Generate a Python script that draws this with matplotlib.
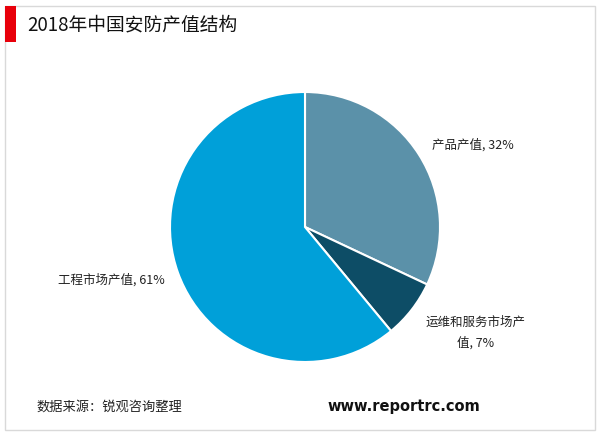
import matplotlib
matplotlib.use("Agg")
import matplotlib.pyplot as plt
from matplotlib.patches import Rectangle

plt.rcParams['font.family'] = ['Noto Sans CJK SC', 'DejaVu Sans']

title = "2018年中国安防产值结构"
categories = ["产品产值", "运维和服务市场产值", "工程市场产值"]
values = [32, 7, 61]
colors = ["#5b91a9", "#0d4d66", "#00a0d9"]
source = "数据来源：锐观咨询整理"
site = "www.reportrc.com"

W, H = 600, 433
fig = plt.figure(figsize=(W / 100, H / 100), dpi=100)

def fx(px):
    return px / W

def fy(py):
    return 1 - py / H

# frame
fig.patches.append(Rectangle((fx(5), fy(430)), fx(590), 424 / H, transform=fig.transFigure,
                             fill=False, edgecolor="#d9d9d9", linewidth=1))
# red bar
fig.patches.append(Rectangle((fx(5), fy(42)), fx(11), 36 / H, transform=fig.transFigure,
                             facecolor="#e8000b", edgecolor="none"))
fig.text(fx(27), fy(25), title, fontsize=13.5, va="center", ha="left", color="#111111")

cx, cy, r = 305, 227, 135
ax = fig.add_axes([fx(cx - r), fy(cy + r), 2 * r / W, 2 * r / H])
ax.pie(values, colors=colors, startangle=90, counterclock=False,
       wedgeprops=dict(edgecolor="white", linewidth=1.5))
ax.set_xlim(-1, 1)
ax.set_ylim(-1, 1)
ax.set_aspect("auto")
ax.axis("off")

lab_kw = dict(fontsize=9, color="#222222", va="center")
fig.text(fx(473), fy(145), f"{categories[0]}, {values[0]}%", ha="center", **lab_kw)
fig.text(fx(476), fy(322), categories[1][:8], ha="center", **lab_kw)
fig.text(fx(476), fy(343), f"{categories[1][8:]}, {values[1]}%", ha="center", **lab_kw)
fig.text(fx(111), fy(280), f"{categories[2]}, {values[2]}%", ha="center", **lab_kw)

fig.text(fx(36), fy(407), source, fontsize=9.5, ha="left", va="center", color="#222222")
fig.text(fx(480), fy(407), site, fontsize=10.5, ha="right", va="center",
         fontweight="bold", color="#111111", family=["DejaVu Sans"])

fig.savefig("out.png", dpi=100)
